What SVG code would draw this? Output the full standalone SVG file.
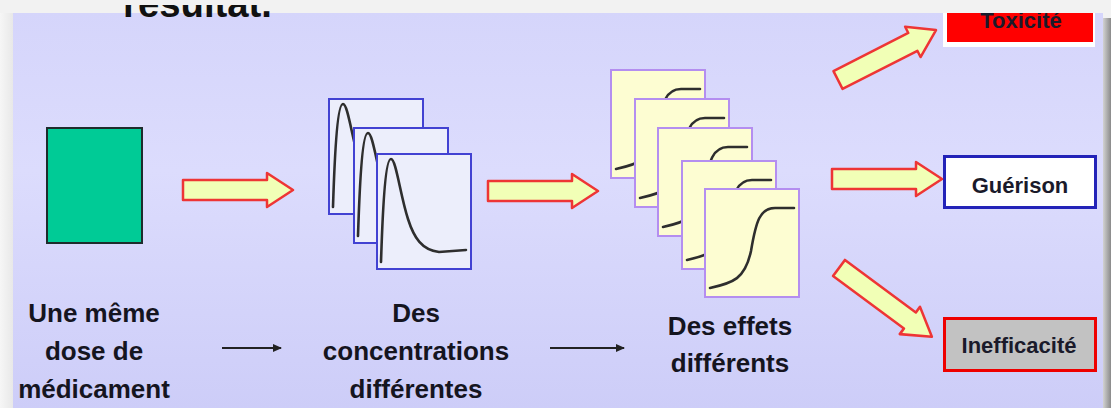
<svg xmlns="http://www.w3.org/2000/svg" width="1111" height="408" viewBox="0 0 1111 408">
  <defs>
    <linearGradient id="panelFill" x1="0" y1="0" x2="0" y2="1">
      <stop offset="0" stop-color="#d5d5fb"/>
      <stop offset="0.4" stop-color="#dcdcfd"/>
      <stop offset="1" stop-color="#cdcdf8"/>
    </linearGradient>
    <linearGradient id="edgeShadow" x1="0" y1="0" x2="1" y2="0">
      <stop offset="0" stop-color="#d2d2d2"/>
      <stop offset="1" stop-color="#8a8a8a"/>
    </linearGradient>
    <linearGradient id="leftStrip" x1="0" y1="0" x2="1" y2="0">
      <stop offset="0" stop-color="#f6f6f6"/>
      <stop offset="1" stop-color="#e8e8e8"/>
    </linearGradient>
    <clipPath id="titleClip">
      <rect x="0" y="5" width="1111" height="20"/>
    </clipPath>
    <!-- block arrow pointing along +x, tail centre at the origin -->
    <path id="blockArrow" d="M0,-10 L84,-10 L84,-17 L110,0 L84,17 L84,10 L0,10 Z"/>
    <!-- plasma concentration curve (94 x 115 frame) -->
    <path id="concCurve" d="M4,108 C6,45 9,5 14,5 C19,5 23,40 31,65 C37,84 45,96 62,98 L89,96"/>
    <!-- sigmoid effect curve (94 x 108 frame) -->
    <path id="effectCurve" d="M5,99 C28,94 40,90 46,62 C51,32 55,19 70,19 L89,19"/>
    <marker id="smallHead" markerUnits="userSpaceOnUse" markerWidth="9" markerHeight="8" refX="8" refY="4" orient="auto">
      <path d="M0,0 L9,4 L0,8 Z" fill="#222"/>
    </marker>
  </defs>
  <style>
    .label { font-family: "Liberation Sans", Arial, sans-serif; font-weight: bold; font-size: 26px; fill: #15151f; text-anchor: middle; }
    .boxText { font-family: "Liberation Sans", Arial, sans-serif; font-weight: bold; font-size: 22px; fill: #1a1a2a; text-anchor: middle; }
    .blk { fill: #f1ffb6; stroke: #ee3535; stroke-width: 2.5; stroke-linejoin: round; }
    .concFrame { fill: #eceefb; stroke: #4242d2; stroke-width: 2; }
    .effFrame { fill: #fdfdd2; stroke: #b48ef0; stroke-width: 2; }
    .curve { fill: none; stroke: #2e2e2e; stroke-width: 2.6; stroke-linecap: round; }
    .thin { fill: none; stroke: #222; stroke-width: 2; }
  </style>

  <!-- page background and slide panel -->
  <rect x="0" y="0" width="1111" height="408" fill="#f2f2f2"/>
  <rect x="0" y="0" width="13" height="408" fill="url(#leftStrip)"/>
  <rect x="13" y="12" width="1090" height="396" fill="url(#panelFill)"/>
  <rect x="1103" y="18" width="8" height="390" fill="url(#edgeShadow)"/>

  <!-- outcome: toxicity (top cut by the page edge) -->
  <g id="toxicite">
    <rect x="943" y="0" width="152" height="47" fill="#ffffff"/>
    <rect x="947" y="0" width="146" height="42" fill="#ff0000"/>
    <text class="boxText" x="1021" y="28" fill="#200000">Toxicité</text>
  </g>

  <!-- top page strip -->
  <rect x="0" y="0" width="1103" height="13" fill="#f2f2f2"/>
  <text x="123" y="17" clip-path="url(#titleClip)" font-family="Liberation Sans, Arial, sans-serif" font-weight="bold" font-size="38" fill="#111" textLength="149" lengthAdjust="spacingAndGlyphs">résultat.</text>

  <!-- dose -->
  <g id="dose">
    <rect x="47" y="128" width="95" height="115" fill="#00cb96" stroke="#1e2c2c" stroke-width="2"/>
  </g>

  <!-- concentration profiles -->
  <g id="concentrations">
    <g transform="translate(329,99)">
      <rect class="concFrame" width="94" height="115"/>
      <use href="#concCurve" class="curve"/>
    </g>
    <g transform="translate(354,128)">
      <rect class="concFrame" width="94" height="115"/>
      <use href="#concCurve" class="curve"/>
    </g>
    <g transform="translate(377,154)">
      <rect class="concFrame" width="94" height="115"/>
      <use href="#concCurve" class="curve"/>
    </g>
  </g>

  <!-- effect curves -->
  <g id="effets">
    <g transform="translate(611,70)">
      <rect class="effFrame" width="94" height="108"/>
      <use href="#effectCurve" class="curve"/>
    </g>
    <g transform="translate(635,99)">
      <rect class="effFrame" width="94" height="108"/>
      <use href="#effectCurve" class="curve"/>
    </g>
    <g transform="translate(658,128)">
      <rect class="effFrame" width="94" height="108"/>
      <use href="#effectCurve" class="curve"/>
    </g>
    <g transform="translate(682,161)">
      <rect class="effFrame" width="94" height="108"/>
      <use href="#effectCurve" class="curve"/>
    </g>
    <g transform="translate(705,189)">
      <rect class="effFrame" width="94" height="108"/>
      <use href="#effectCurve" class="curve"/>
    </g>
  </g>

  <!-- outcome: cure -->
  <g id="guerison">
    <rect x="944.5" y="156.5" width="151" height="51" fill="#ffffff" stroke="#2323b8" stroke-width="3"/>
    <text class="boxText" x="1020" y="193">Guérison</text>
  </g>

  <!-- outcome: inefficacy -->
  <g id="inefficacite">
    <rect x="944.5" y="318.5" width="151" height="52" fill="#c2c2c2" stroke="#ee0000" stroke-width="3"/>
    <text class="boxText" x="1019" y="353">Inefficacité</text>
  </g>

  <!-- connectors -->
  <g id="connectors">
    <use href="#blockArrow" class="blk" transform="translate(183,190)"/>
    <use href="#blockArrow" class="blk" transform="translate(488,191)"/>
    <use href="#blockArrow" class="blk" transform="translate(838,80) rotate(-27)"/>
    <use href="#blockArrow" class="blk" transform="translate(832,179)"/>
    <use href="#blockArrow" class="blk" transform="translate(839,268) rotate(36.5) scale(1.05,1)"/>
    <line class="thin" x1="222" y1="348" x2="281" y2="348" marker-end="url(#smallHead)"/>
    <line class="thin" x1="550" y1="348" x2="624" y2="348" marker-end="url(#smallHead)"/>
  </g>

  <!-- captions -->
  <g id="captions">
    <text class="label" x="94" y="322">Une même</text>
    <text class="label" x="94" y="360">dose de</text>
    <text class="label" x="94" y="398">médicament</text>
    <text class="label" x="416" y="322">Des</text>
    <text class="label" x="416" y="360">concentrations</text>
    <text class="label" x="416" y="398">différentes</text>
    <text class="label" x="730" y="335">Des effets</text>
    <text class="label" x="730" y="372">différents</text>
  </g>
</svg>
